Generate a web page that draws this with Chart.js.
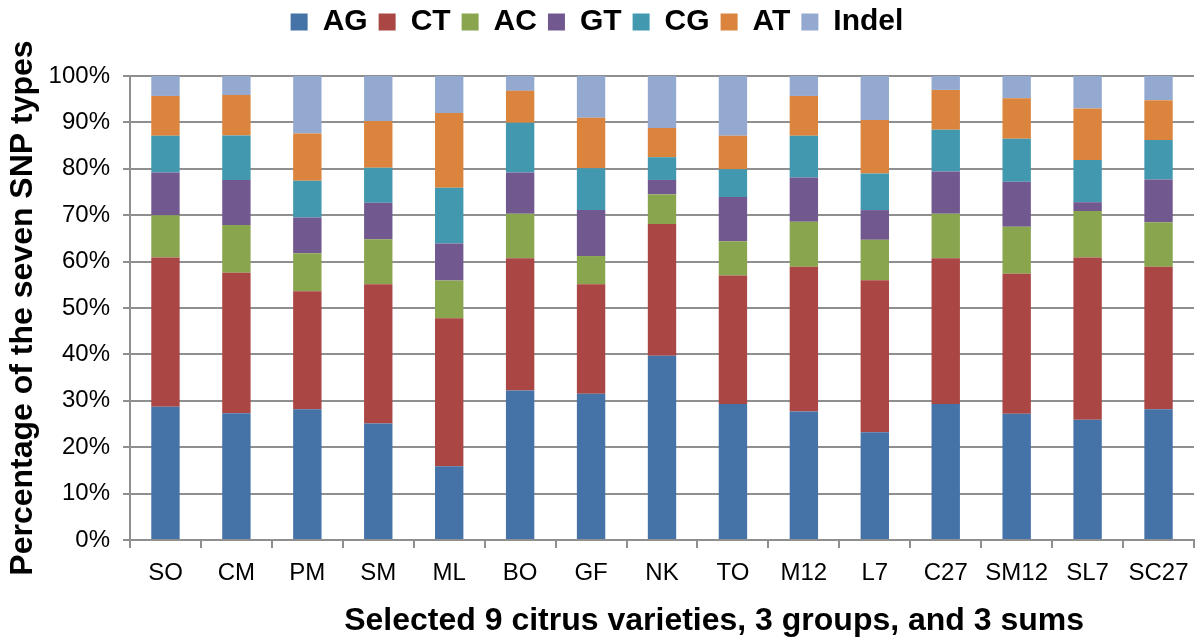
<!DOCTYPE html>
<html>
<head>
<meta charset="utf-8">
<script src="https://cdn.jsdelivr.net/npm/chart.js@4"></script>
<style>
  html, body { margin: 0; padding: 0; background: #fff; }
  #wrap { width: 1200px; height: 637px; }
</style>
</head>
<body>
<div id="wrap"><canvas id="snp" width="1200" height="637"></canvas></div>
<script>
// ==========================
// DATA (percent of each SNP type per variety)
// ==========================
const categories = ["SO", "CM", "PM", "SM", "ML", "BO", "GF", "NK", "TO", "M12", "L7", "C27", "SM12", "SL7", "SC27"];

const agValues    = [28.7, 27.3, 28.2, 25.1, 15.9, 32.2, 31.5, 39.7, 29.3, 27.7, 23.2, 29.3, 27.2, 25.9, 28.2];
const ctValues    = [32.2, 30.3, 25.4, 30.0, 31.9, 28.5, 23.6, 28.4, 27.7, 31.2, 32.8, 31.4, 30.2, 35.0, 30.7];
const acValues    = [9.1, 10.3, 8.2, 9.7, 8.1, 9.6, 6.1, 6.4, 7.4, 9.7, 8.7, 9.6, 10.1, 10.0, 9.6];
const gtValues    = [9.2, 9.7, 7.7, 7.9, 8.0, 8.9, 9.9, 3.1, 9.5, 9.5, 6.4, 9.1, 9.7, 1.9, 9.2];
const cgValues    = [7.9, 9.6, 7.9, 7.5, 12.0, 10.7, 9.0, 4.9, 6.0, 9.0, 7.9, 9.0, 9.3, 9.1, 8.5];
const atValues    = [8.6, 8.7, 10.2, 10.1, 16.1, 6.9, 10.9, 6.3, 7.2, 8.6, 11.5, 8.6, 8.7, 11.1, 8.6];
const indelValues = [4.3, 4.1, 12.4, 9.7, 8.0, 3.2, 9.0, 11.2, 12.9, 4.3, 9.5, 3.0, 4.8, 7.0, 5.2];

const yTicks = [0, 10, 20, 30, 40, 50, 60, 70, 80, 90, 100];

const xTitle = "Selected 9 citrus varieties, 3 groups, and 3 sums";
const yTitle = "Percentage of the seven SNP types";

// ==========================
// STYLE
// ==========================
const FONT = "'Liberation Sans', Arial, Helvetica, sans-serif";
const GRID = "#8f8f8f";

const series = [
  { label: "AG", data: agValues, color: "#4572A7" },
  { label: "CT", data: ctValues, color: "#AA4643" },
  { label: "AC", data: acValues, color: "#89A54E" },
  { label: "GT", data: gtValues, color: "#71588F" },
  { label: "CG", data: cgValues, color: "#4198AF" },
  { label: "AT", data: atValues, color: "#DB843D" },
  { label: "Indel", data: indelValues, color: "#93A9CF" },
];

const datasets = series.map((s) => ({
  label: s.label,
  data: s.data,
  backgroundColor: s.color,
  borderWidth: 0,
  categoryPercentage: 0.8,
  barPercentage: 0.5,
}));

// x axis title sits a bit right of the plot centre in the original
const xTitlePlugin = {
  id: "xTitlePlugin",
  afterDraw(chart) {
    const { ctx, chartArea } = chart;
    ctx.save();
    ctx.font = "bold 32px " + FONT;
    ctx.fillStyle = "#000";
    ctx.textAlign = "center";
    ctx.textBaseline = "alphabetic";
    ctx.fillText(xTitle, chartArea.left + chartArea.width * 0.549, 630);
    ctx.restore();
  },
};

// ==========================
// CHART
// ==========================
new Chart(document.getElementById("snp"), {
  type: "bar",
  data: { labels: categories, datasets: datasets },
  plugins: [xTitlePlugin],
  options: {
    responsive: false,
    animation: false,
    layout: { padding: { left: 0, right: 6, top: -4, bottom: 0 } },
    plugins: {
      tooltip: { enabled: false },
      legend: {
        position: "top",
        labels: {
          boxWidth: 17,
          boxHeight: 17,
          padding: 11,
          color: "#000",
          font: { family: FONT, size: 30, weight: "bold" },
        },
      },
      // empty spacer between legend and plot
      subtitle: {
        display: true,
        text: " ",
        position: "top",
        weight: 500,
        padding: 0,
        font: { size: 10, lineHeight: 2.9 },
      },
    },
    scales: {
      x: {
        stacked: true,
        afterFit: (scale) => { scale.height = 97; },
        grid: {
          display: true,
          drawOnChartArea: false,
          drawTicks: true,
          tickLength: 8,
          color: GRID,
          lineWidth: 2,
        },
        border: { display: true, color: GRID, width: 2 },
        ticks: {
          color: "#000",
          padding: 11,
          maxRotation: 0,
          font: { family: FONT, size: 24 },
        },
        title: { display: false },
      },
      y: {
        stacked: true,
        min: 0,
        max: 100,
        afterFit: (scale) => { scale.width = 130; },
        afterBuildTicks: (scale) => { scale.ticks = yTicks.map((v) => ({ value: v })); },
        grid: {
          color: GRID,
          lineWidth: 2,
          drawTicks: true,
          tickLength: 7,
        },
        border: { display: true, color: GRID, width: 2 },
        ticks: {
          color: "#000",
          padding: 13,
          font: { family: FONT, size: 24 },
          callback: (v) => v + "%",
        },
        title: {
          display: true,
          text: yTitle,
          color: "#000",
          padding: { top: 7, bottom: 2 },
          font: { family: FONT, size: 32, weight: "bold", lineHeight: 1.0 },
        },
      },
    },
  },
});
</script>
</body>
</html>
